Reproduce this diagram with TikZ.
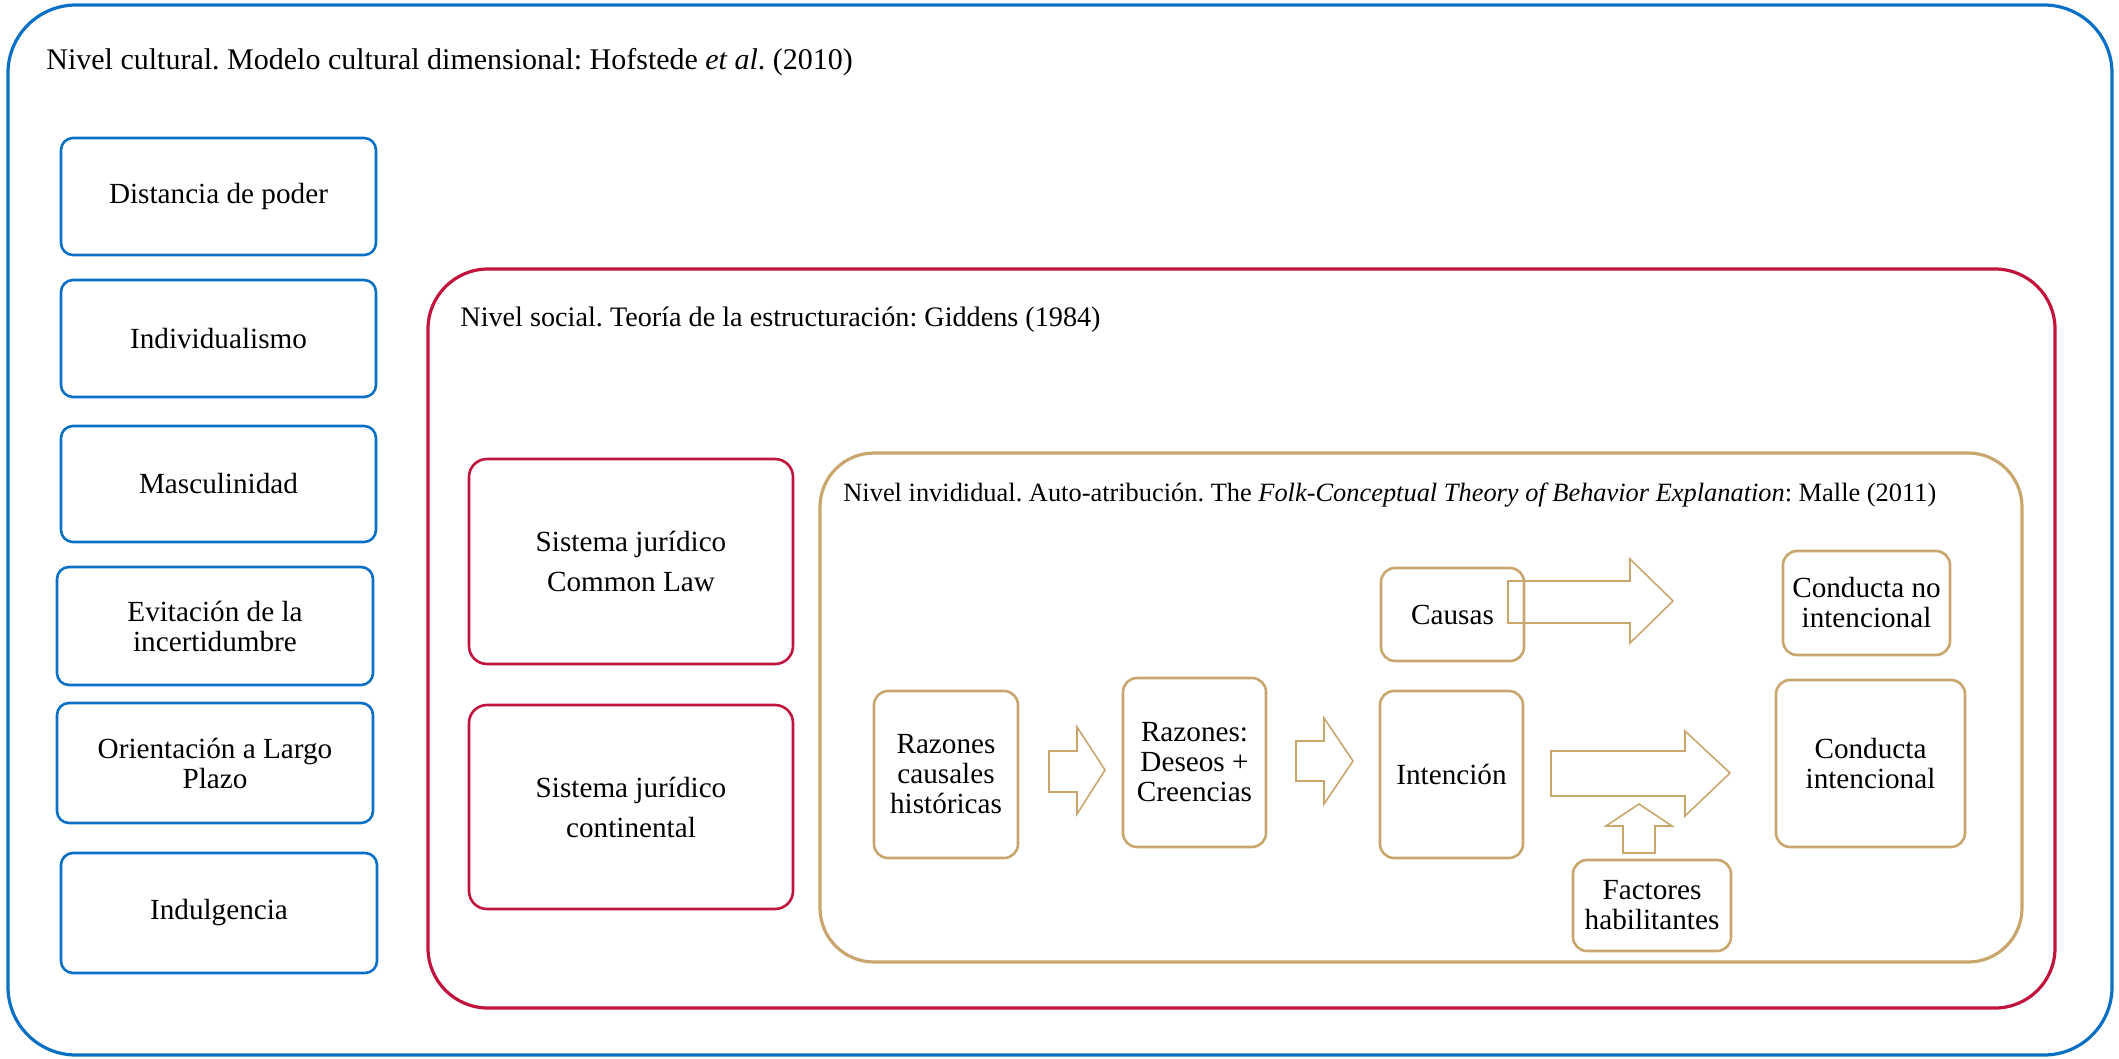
\documentclass[tikz,border=0pt]{standalone}
\usepackage{fontspec}
\setmainfont{Liberation Serif}
\definecolor{cblue}{HTML}{0A70C6}
\definecolor{cred}{HTML}{C0143C}
\definecolor{ctan}{HTML}{C8A66E}
\begin{document}
\frenchspacing
\begin{tikzpicture}[x=0.5pt,y=-0.5pt,
  font=\fontsize{14.6}{15}\selectfont,
  frame/.style={line width=1.6pt},
  bbox/.style={draw=cblue, line width=1.3pt, rounded corners=6pt, inner sep=0pt, align=center},
  rbox/.style={draw=cred, line width=1.3pt, rounded corners=9pt, inner sep=0pt, align=center, font=\fontsize{14.6}{20}\selectfont},
  tbox/.style={draw=ctan, line width=1.3pt, rounded corners=7pt, inner sep=0pt, align=center},
  barrow/.style={draw=ctan, line width=0.8pt, line join=miter},
  ttl/.style={anchor=west, inner sep=0pt}]
\useasboundingbox (0,0) rectangle (2119,1059);
% frames
\draw[frame, draw=cblue, rounded corners=34pt] (8,5) rectangle (2112,1055);
\draw[frame, draw=cred, rounded corners=30pt] (428,269) rectangle (2055,1008);
\draw[frame, draw=ctan, rounded corners=27pt] (820,453) rectangle (2022,962);
% titles
\node[ttl, font=\fontsize{15}{16}\selectfont] (t1) at (46,62) {Nivel cultural. Modelo cultural dimensional: Hofstede \textit{et al}. (2010)};
\node[ttl, font=\fontsize{14.1}{16}\selectfont] (t2) at (460,320) {Nivel social. Teoría de la estructuración: Giddens (1984)};
\node[ttl, font=\fontsize{13.2}{16}\selectfont] (t3) at (843,495) {Nivel invididual. Auto-atribución. The \textit{Folk-Conceptual Theory of Behavior Explanation}: Malle (2011)};
% blue boxes
\node[bbox, minimum width=157.5pt, minimum height=58.5pt] (b1) at (218.5,196.5) {Distancia de poder};
\node[bbox, minimum width=157.5pt, minimum height=58.5pt] (b2) at (218.5,338.5) {Individualismo};
\node[bbox, minimum width=157.5pt, minimum height=58pt] (b3) at (218.5,484) {Masculinidad};
\node[bbox, minimum width=158pt, minimum height=59pt] (b4) at (215,626) {Evitación de la\\incertidumbre};
\node[bbox, minimum width=158pt, minimum height=60pt] (b5) at (215,763) {Orientación a Largo\\Plazo};
\node[bbox, minimum width=158pt, minimum height=60pt] (b6) at (219,913) {Indulgencia};
% red boxes
\node[rbox, minimum width=162pt, minimum height=102.5pt] (r1) at (631,561.5) {Sistema jurídico\\Common Law};
\node[rbox, minimum width=162pt, minimum height=102pt] (r2) at (631,807) {Sistema jurídico\\continental};
% tan boxes
\node[tbox, minimum width=71.5pt, minimum height=46.5pt] (causas) at (1452.5,614.5) {Causas};
\node[tbox, minimum width=83.5pt, minimum height=52pt] (cni) at (1866.5,603) {Conducta no\\intencional};
\node[tbox, minimum width=72pt, minimum height=83.5pt] (rch) at (946,774.5) {Razones\\causales\\históricas};
\node[tbox, minimum width=71.5pt, minimum height=84.5pt] (rdc) at (1194.5,762.5) {Razones:\\Deseos +\\Creencias};
\node[tbox, minimum width=71.5pt, minimum height=83.5pt] (int) at (1451.5,774.5) {Intención};
\node[tbox, minimum width=94.5pt, minimum height=83.5pt] (ci) at (1870.5,763.5) {Conducta\\intencional};
\node[tbox, minimum width=79pt, minimum height=45.5pt] (fh) at (1652,905.5) {Factores\\habilitantes};
% block arrows
\draw[barrow] (1508,581) -- (1630,581) -- (1630,559) -- (1673,601) -- (1630,643) -- (1630,623) -- (1508,623) -- cycle;
\draw[barrow] (1049,751) -- (1077,751) -- (1077,727) -- (1105,770) -- (1077,814) -- (1077,792) -- (1049,792) -- cycle;
\draw[barrow] (1296,741) -- (1324,741) -- (1324,718) -- (1353,761) -- (1324,804) -- (1324,781) -- (1296,781) -- cycle;
\draw[barrow] (1551,751) -- (1685,751) -- (1685,731) -- (1730,773) -- (1685,816) -- (1685,796) -- (1551,796) -- cycle;
\draw[barrow] (1623,853) -- (1623,826) -- (1606,826) -- (1639,804) -- (1672,826) -- (1655,826) -- (1655,853) -- cycle;
\end{tikzpicture}
\end{document}
